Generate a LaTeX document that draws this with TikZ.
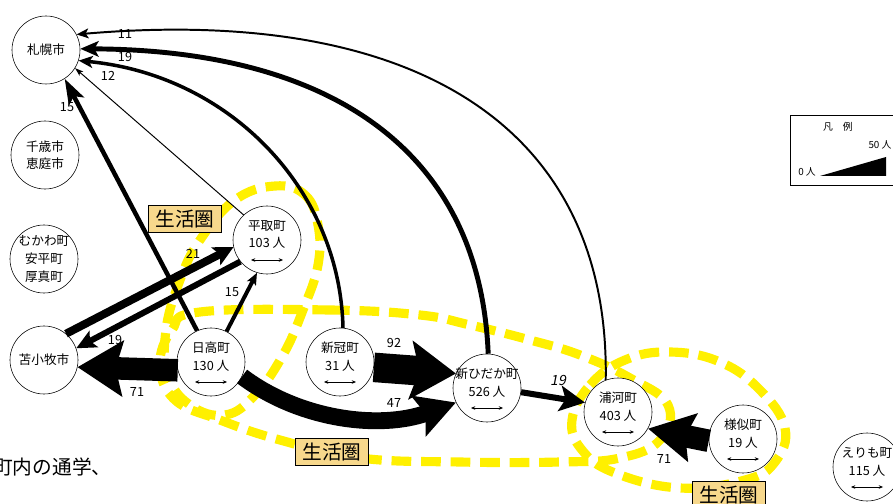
\documentclass[tikz,border=0pt]{standalone}
\usepackage{fontspec}
\setmainfont{Noto Sans CJK JP}
\newfontfamily\slantfont{Noto Sans CJK JP}[FakeSlant=0.2]
\usepackage{tikz}
\usetikzlibrary{shapes, calc, arrows, arrows.meta, positioning}
\definecolor{zoneyellow}{HTML}{FFF000}
\definecolor{zonetag}{HTML}{F7D88C}

\begin{document}
\begin{tikzpicture}[x=0.025cm, y=-0.025cm, font=\fontsize{9}{12.5}\selectfont, >=latex,
  town/.style={circle, draw, fill=white, minimum size=1.7cm, inner sep=-2pt, align=center},
  zone/.style={draw=zoneyellow, line width=6.5pt, dash pattern=on 14pt off 7pt},
  tag/.style={draw, fill=zonetag, font=\fontsize{14}{14}\selectfont, inner xsep=5pt, inner ysep=3pt},
  flow/.style n args={4}{line width=#1, -{Stealth[length=#2, width=#3, inset=#4]}},
  span/.style={{Stealth[length=3pt,width=2.5pt]}-{Stealth[length=3pt,width=2.5pt]}, thin}]

\useasboundingbox (0,0) rectangle (893,504);

% 生活圏 (yellow dashed loops)
\draw[zone] plot[smooth cycle, tension=0.7] coordinates {(275,186) (305,195) (318,225) (318,265) (303,310) (283,355) (255,395) (225,415) (190,405) (168,375) (166,330) (180,280) (200,240) (235,200)};
\draw[zone] plot[smooth cycle, tension=0.7] coordinates {(200,312) (330,310) (420,315) (470,325) (530,340) (580,355) (630,378) (668,405) (660,440) (620,458) (560,462) (460,462) (360,458) (280,440) (220,420) (175,400) (160,365) (172,330)};
\draw[zone] plot[smooth cycle, tension=0.7] coordinates {(572,420) (590,385) (625,360) (670,352) (720,362) (760,390) (785,428) (775,462) (745,480) (680,488) (615,473) (582,450)};

% towns
\node[town] (sapporo) at (46,50) {札幌市};
\node[town] (chitose) at (45,155) {千歳市\\恵庭市};
\node[town] (mukawa) at (44,259) {むかわ町\\安平町\\厚真町};
\node[town] (tomakomai) at (44,360) {苫小牧市};
\node[town] (hiratori) at (267,240) {平取町\\103 人\\[-8pt]\strut};
\node[town] (hidaka) at (211,362) {日高町\\130 人\\[-8pt]\strut};
\node[town] (niikappu) at (340,362) {新冠町\\31 人\\[-8pt]\strut};
\node[town] (shinhidaka) at (487,388) {新ひだか町\\526 人\\[-8pt]\strut};
\node[town] (urakawa) at (618,412) {浦河町\\403 人\\[-8pt]\strut};
\node[town] (samani) at (743,439) {様似町\\19 人\\[-8pt]\strut};
\node[town] (erimo) at (867,467) {えりも町\\115 人\\[-8pt]\strut};

\foreach \t in {hiratori, hidaka, niikappu, shinhidaka, urakawa, samani, erimo}
  \draw[span] ($(\t)+(-16,20)$) -- ++(32,0);

% to 札幌市
\draw[flow={1.4pt}{8.5pt}{7pt}{2pt}] (urakawa.111) .. controls (610,130) and (420,5) .. (sapporo.27);
\draw[flow={3.5pt}{13pt}{11pt}{3pt}] (shinhidaka.88) .. controls (480,150) and (330,50) .. (sapporo.2);
\draw[flow={2.5pt}{10pt}{8.5pt}{2.5pt}] (niikappu.85) .. controls (340,190) and (230,75) .. (sapporo.342);
\draw[flow={0.7pt}{6pt}{4pt}{1.5pt}] (hiratori.133) -- (sapporo.328);
\draw[flow={3.2pt}{18pt}{12pt}{4pt}] (hidaka.114) -- (sapporo.303);

% 苫小牧市 / 平取町
\draw[flow={5.7pt}{14pt}{14pt}{3pt}] (tomakomai.50) -- (hiratori.192);
\draw[flow={4.3pt}{14pt}{13pt}{3pt}] (hiratori.219) -- (tomakomai.20);
\draw[flow={2.8pt}{8.5pt}{7pt}{2pt}] (hidaka.63) -- (hiratori.253);
\draw[flow={16pt}{32pt}{39pt}{5pt}] (hidaka.194) -- (tomakomai.348);

% 新ひだか町 / 浦河町
\draw[flow={21pt}{32pt}{41pt}{6pt}] (niikappu.351) -- (shinhidaka.155);
\draw[flow={12pt}{28pt}{30pt}{5pt}] (hidaka.335) .. controls (300,420) and (380,430) .. (shinhidaka.205);
\draw[flow={4.3pt}{18pt}{18pt}{4pt}] (shinhidaka.353) -- (urakawa.164);
\draw[flow={16pt}{32pt}{34pt}{5pt}] (samani.183) -- (urakawa.331);

% numbers
\node (n-ura-sap) at (125,34) {11};
\node (n-shi-sap) at (125,57) {19};
\node (n-nii-sap) at (108,76) {12};
\node (n-hid-sap) at (67,107) {15};
\node (n-tom-hir) at (193,254) {21};
\node (n-hid-hir) at (232,292) {15};
\node (n-hir-tom) at (115,340) {19};
\node (n-hid-tom) at (137,392) {71};
\node (n-nii-shi) at (394,343) {92};
\node (n-hid-shi) at (394,403) {47};
\node[font=\slantfont] (n-shi-ura) at (558,380) {19};
\node (n-sam-ura) at (664,459) {71};

% 生活圏 tags
\node[tag] (tag-hiratori) at (185,219) {生活圏};
\node[tag] (tag-hidaka) at (332,452) {生活圏};
\node[tag] (tag-urakawa) at (729,495) {生活圏};

% legend
\draw[thin] (790,115) rectangle (905,185);
\node[font=\fontsize{7}{7}\selectfont] (legend-title) at (838,127) {凡\quad 例};
\fill (820,176) -- (886,176) -- (886,157) -- cycle;
\node[font=\fontsize{7}{7}\selectfont] (legend-max) at (880,145) {50 人};
\node[font=\fontsize{7}{7}\selectfont] (legend-min) at (807,172) {0 人};

\node[anchor=west, font=\fontsize{14}{14}\selectfont, inner sep=0pt] (note) at (-7,467) {町内の通学、};

\end{tikzpicture}
\end{document}
